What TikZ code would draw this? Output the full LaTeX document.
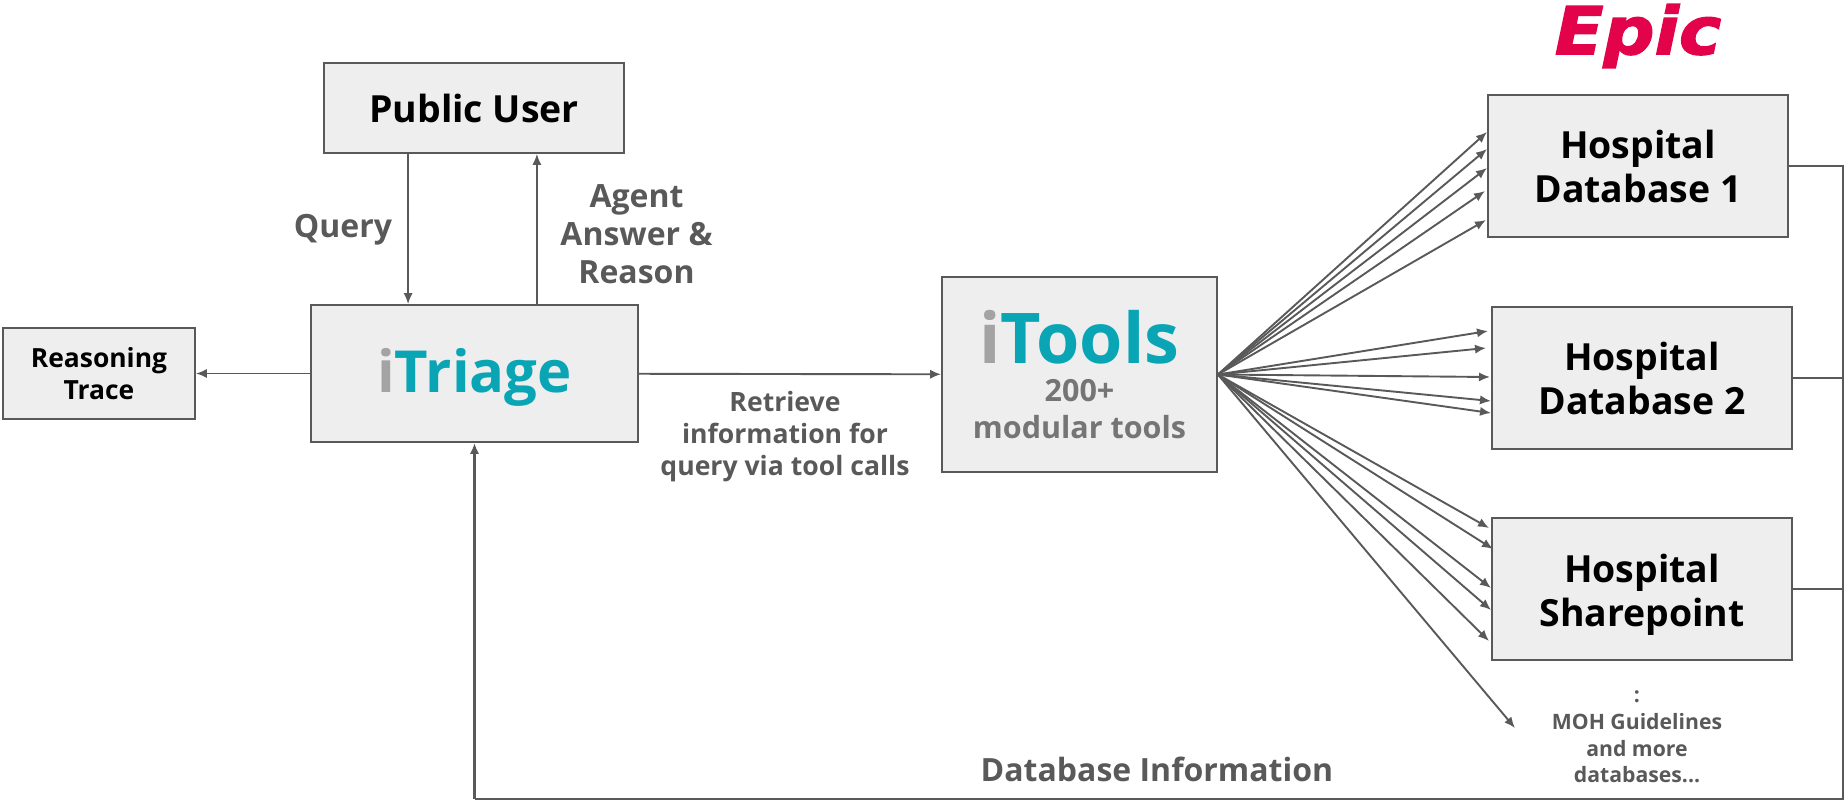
\documentclass[tikz,border=0pt]{standalone}
\usepackage{fontspec}
\usepackage{graphicx}
\setmainfont{Open Sans}
\newfontfamily\epicfont[UprightFont=* Bold Oblique,FakeBold=2]{DejaVu Sans}
\definecolor{boxfill}{HTML}{EEEEEE}
\definecolor{linegray}{HTML}{595959}
\definecolor{toolgray}{HTML}{757575}
\definecolor{igray}{HTML}{A3A3A3}
\definecolor{teal}{HTML}{0AA5B5}
\definecolor{epicred}{HTML}{E2034B}
\tikzstyle{box}=[rectangle,draw=linegray,fill=boxfill,line width=0.9pt,align=center,text=black,inner sep=0pt]
\tikzstyle{hospital}=[box,minimum width=150pt,minimum height=71pt,font=\bfseries\fontsize{18.7}{22}\selectfont]
\tikzstyle{caption}=[align=center,text=linegray,inner sep=0pt,font=\bfseries\fontsize{16}{19}\selectfont]
\tikzstyle{wire}=[color=linegray,line width=0.95pt]
\usetikzlibrary{arrows.meta,positioning}

\begin{document}
\begin{tikzpicture}[x=0.5pt,y=-0.5pt,>={Latex[length=5.5pt,width=4.6pt]}]
            \useasboundingbox (0,0) rectangle (1844,800);

            % USER AND AGENT PART

            \node[box,minimum width=150pt,minimum height=45pt,font=\bfseries\fontsize{18.7}{21.8}\selectfont] (publicuser) at (474,108) {Public User};
            \node[box,minimum width=163.5pt,minimum height=68.5pt,text height=26pt,font=\bfseries\fontsize{29}{34}\selectfont] (itriage) at (474.5,373.5) {\textcolor{igray}{i}\textcolor{teal}{Triage}};
            \node[box,minimum width=96pt,minimum height=45.5pt,font=\bfseries\fontsize{13.2}{16}\selectfont] (trace) at (99,373.5) {Reasoning\\Trace};
            \node[caption] (query) at (343,230) {Query};
            \node[caption] (answer) at (636.5,234) {Agent\\Answer \&\\Reason};

            \path[wire,->] ([xshift=42.5pt]publicuser.south west) edge ([xshift=49pt]itriage.north west);
            \path[wire,->] ([xshift=113.4pt]itriage.north west) edge ([xshift=106.9pt]publicuser.south west);
            \path[wire,->] (itriage) edge (trace);

            % TOOLS PART

            \node[box,minimum width=137.5pt,minimum height=97.5pt,text=toolgray,font=\bfseries\fontsize{15.25}{17}\selectfont] (itools) at (1079.5,374.5) {{\fontsize{35}{36}\selectfont\textcolor{igray}{i}\textcolor{teal}{Tools}}\\[2pt]200+\\[1.8pt]modular tools};
            \node[caption,font=\bfseries\fontsize{13.3}{16}\selectfont] (retrieve) at (785,436.5) {Retrieve\\information for\\query via tool calls};

            \path[wire,->] (itriage) edge (itools);

            % DATABASE PART

            \node[hospital] (db1) at (1638,166) {Hospital\\Database 1};
            \node[hospital] (db2) at (1642,378) {Hospital\\Database 2};
            \node[hospital] (sharepoint) at (1642,589) {\rule{0pt}{19.5pt}Hospital\\Sharepoint};
            \node[caption,font=\bfseries\fontsize{10.6}{13.3}\selectfont] (moh) at (1637,737) {:\\MOH Guidelines\\and more\\databases...};
            \node[text=epicred,inner sep=0pt,font=\epicfont\fontsize{33}{36}\selectfont] (epic) at (1638,36) {\scalebox{1.08}[1]{Epic}};

            \coordinate (a1) at (1487,132);
            \coordinate (a2) at (1487,149);
            \coordinate (a3) at (1487,168);
            \coordinate (a4) at (1485,191);
            \coordinate (a5) at (1486,220);
            \coordinate (b1) at (1488,331);
            \coordinate (b2) at (1486,348);
            \coordinate (b3) at (1490,377);
            \coordinate (b4) at (1491,401);
            \coordinate (b5) at (1491,413);
            \coordinate (c1) at (1489,528);
            \coordinate (c2) at (1493,549);
            \coordinate (c3) at (1491,588);
            \coordinate (c4) at (1491,610);
            \coordinate (c5) at (1489,641);
            \coordinate (c6) at (1515,728);

            \path[wire,->] (itools.east) edge (a1);
            \path[wire,->] (itools.east) edge (a2);
            \path[wire,->] (itools.east) edge (a3);
            \path[wire,->] (itools.east) edge (a4);
            \path[wire,->] (itools.east) edge (a5);
            \path[wire,->] (itools.east) edge (b1);
            \path[wire,->] (itools.east) edge (b2);
            \path[wire,->] (itools.east) edge (b3);
            \path[wire,->] (itools.east) edge (b4);
            \path[wire,->] (itools.east) edge (b5);
            \path[wire,->] (itools.east) edge (c1);
            \path[wire,->] (itools.east) edge (c2);
            \path[wire,->] (itools.east) edge (c3);
            \path[wire,->] (itools.east) edge (c4);
            \path[wire,->] (itools.east) edge (c5);
            \path[wire,->] (itools.east) edge (c6);

            % RETURN PART

            \coordinate (bustop) at (1843,166);
            \coordinate (busright) at (1843,799);
            \coordinate (busleft) at (474.5,799);
            \node[caption] (dbinfo) at (1157,769) {Database Information};

            \draw[wire] (db1.east) -- (bustop) -- (busright) -- (busleft);
            \draw[wire] (db2.east) -- (db2.east -| bustop);
            \draw[wire] (sharepoint.east) -- (sharepoint.east -| bustop);
            \draw[wire,line width=1.1pt,->] (busleft) -- (itriage.south);

\end{tikzpicture}
\end{document}
